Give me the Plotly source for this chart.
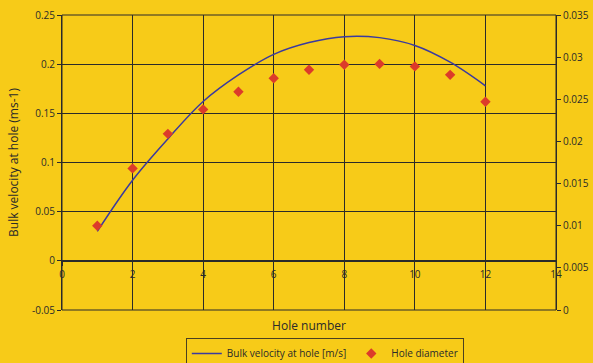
import plotly.graph_objects as go

# hole numbers
holes = [1, 2, 3, 4, 5, 6, 7, 8, 9, 10, 11, 12]

# bulk velocity at hole [m/s] (left axis)
velocity = [0.030, 0.082, 0.124, 0.162, 0.189, 0.210, 0.222, 0.228, 0.227, 0.219, 0.202, 0.178]

# hole diameter (right axis)
diameter = [0.0100, 0.0168, 0.0209, 0.0238, 0.0259, 0.0275, 0.0285, 0.0291, 0.0292, 0.0289, 0.0279, 0.0247]

left_ticks = [-0.05, 0, 0.05, 0.1, 0.15, 0.2, 0.25]
left_labels = ["-0.05", "0", "0.05", "0.1", "0.15", "0.2", "0.25"]

bg = "#F7CB18"
ink = "#2a2a2a"

fig = go.Figure()

fig.add_trace(go.Scatter(
    x=holes, y=velocity, mode="lines", line_shape="spline",
    line=dict(color="#3a3aa0", width=1.5),
    name="Bulk velocity at hole [m/s]",
))

fig.add_trace(go.Scatter(
    x=holes, y=diameter, mode="markers", yaxis="y2",
    marker=dict(symbol="diamond", size=8, color="#DC3B2A"),
    name="Hole diameter",
))

fig.update_layout(
    width=593, height=363,
    margin=dict(l=62, r=37, t=15, b=53, autoexpand=False),
    paper_bgcolor=bg, plot_bgcolor=bg,
    font=dict(family="Open Sans", size=10, color=ink),
    xaxis=dict(
        range=[0, 14], dtick=2, anchor="free", position=0.05 / 0.3,
        showgrid=True, gridcolor=ink, gridwidth=1,
        showline=True, linecolor=ink, linewidth=1,
        ticks="outside", ticklen=4, tickcolor=ink,
        zeroline=False, automargin=False,
        title=dict(text="Hole number", standoff=41),
    ),
    yaxis=dict(
        range=[-0.05, 0.25], tickvals=left_ticks, ticktext=left_labels,
        showgrid=True, gridcolor=ink, gridwidth=1,
        showline=True, linecolor=ink, linewidth=1,
        ticks="outside", ticklen=4, tickcolor=ink,
        zeroline=False, automargin=False,
        title=dict(text="Bulk velocity at hole (ms-1)", standoff=10),
    ),
    yaxis2=dict(
        range=[0, 0.035], dtick=0.005, overlaying="y", side="right",
        showgrid=False, zeroline=False, automargin=False,
        showline=True, linecolor=ink, linewidth=1,
        ticks="outside", ticklen=4, tickcolor=ink,
    ),
    legend=dict(
        orientation="h", x=0.532, xref="paper", xanchor="center",
        y=-0.095, yanchor="top",
        bgcolor=bg, bordercolor="#4a4020", borderwidth=1,
        font=dict(size=10), itemwidth=30,
    ),
    shapes=[dict(type="rect", xref="x domain", yref="y domain",
                 x0=0, x1=1, y0=0, y1=1, line=dict(color=ink, width=1))],
)

# drop the page's default body margin so the figure sits at the window corner
page_js = ("document.body.style.margin='0';"
           "document.body.style.overflow='hidden';"
           "document.body.style.background='%s';" % bg)

fig.write_html("out.html", post_script=page_js, config={"displayModeBar": False})
